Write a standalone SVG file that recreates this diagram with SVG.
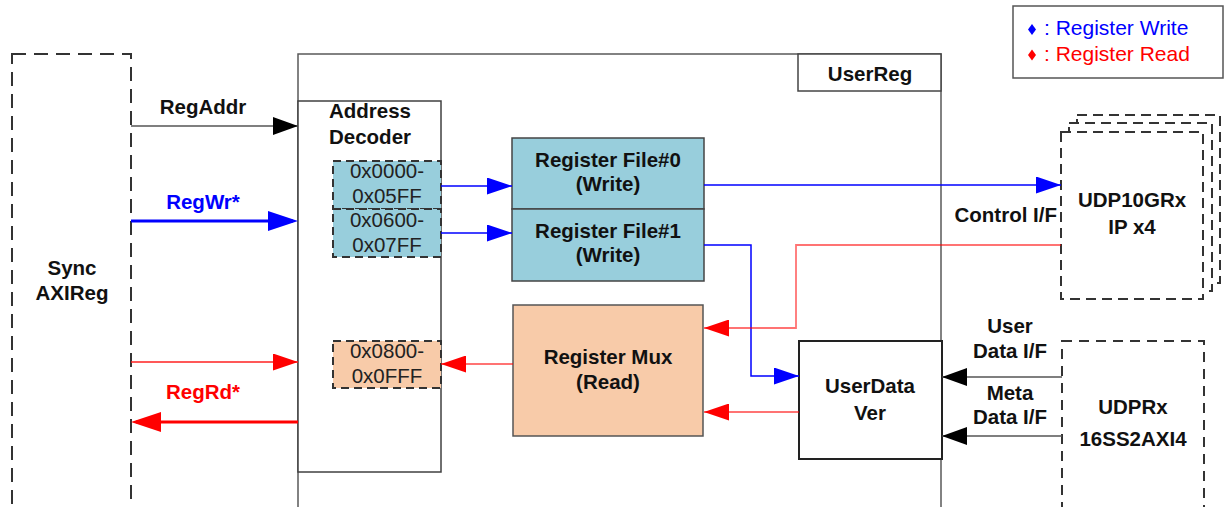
<svg xmlns="http://www.w3.org/2000/svg" width="1226" height="507" viewBox="0 0 1226 507">
<style>
text{font-family:"Liberation Sans",Arial,sans-serif;}
.b{font-weight:bold;font-size:20.5px;fill:#111;text-anchor:middle;}
.n{font-size:20.5px;fill:#222;text-anchor:middle;}
.lg{font-size:21px;}
.dash{fill:none;stroke:#333;stroke-width:2;stroke-dasharray:14 8;}
.stk{fill:#fff;stroke:#333;stroke-width:2;stroke-dasharray:10 6;}
.hexd{stroke:#333;stroke-width:2;stroke-dasharray:8 5;}
.blue{fill:#98CEDC;stroke:#444;stroke-width:1.5;}
.peach{fill:#F8CBA9;stroke:#555;stroke-width:1.5;}
.c{fill:none;}
.wb{stroke:#0000FF;stroke-width:1.5;}
.wbT{stroke:#0000FF;stroke-width:3;}
.rd{stroke:#FF0000;stroke-opacity:0.55;stroke-width:1.8;}
.rdT{stroke:#FF0000;stroke-width:3;}
.rdI{stroke:#FF2020;stroke-width:1.5;}
.k{stroke:#555;stroke-width:1.6;}
</style>
<defs>
<marker id="ak" markerUnits="userSpaceOnUse" markerWidth="25" markerHeight="18" refX="25" refY="9" orient="auto"><path d="M0,0 L25,9 L0,18 z" fill="#000"/></marker>
<marker id="ab" markerUnits="userSpaceOnUse" markerWidth="25" markerHeight="17" refX="25" refY="8.5" orient="auto"><path d="M0,0 L25,8.5 L0,17 z" fill="#0000FF"/></marker>
<marker id="ar" markerUnits="userSpaceOnUse" markerWidth="25" markerHeight="17" refX="25" refY="8.5" orient="auto"><path d="M0,0 L25,8.5 L0,17 z" fill="#FF0000"/></marker>
<marker id="abT" markerUnits="userSpaceOnUse" markerWidth="30" markerHeight="20" refX="25" refY="10" orient="auto"><path d="M0,0 L30,10 L0,20 z" fill="#0000FF"/></marker>
<marker id="arT" markerUnits="userSpaceOnUse" markerWidth="30" markerHeight="20" refX="25" refY="10" orient="auto"><path d="M0,0 L30,10 L0,20 z" fill="#FF0000"/></marker>
</defs>

<g id="userreg">
<rect x="298" y="54" width="643" height="470" fill="none" stroke="#595959" stroke-width="1.5"/>
<rect x="798" y="54" width="143" height="37" fill="#fff" stroke="#444" stroke-width="1.5"/>
<text class="b" x="870" y="81">UserReg</text>
</g>

<g id="syncaxireg">
<rect class="dash" x="12" y="54" width="119" height="480"/>
<text class="b" x="72" y="275">Sync</text>
<text class="b" x="72" y="300">AXIReg</text>
</g>

<g id="addrdecoder">
<rect x="298" y="101" width="143" height="371" fill="#fff" stroke="#404040" stroke-width="1.5"/>
<text class="b" x="370" y="118">Address</text>
<text class="b" x="370" y="144">Decoder</text>
</g>

<g id="hex0">
<rect class="hexd" x="333" y="161" width="108" height="48" fill="#98CEDC"/>
<text class="n" x="387" y="178">0x0000-</text>
<text class="n" x="387" y="203">0x05FF</text>
</g>
<g id="hex1">
<rect class="hexd" x="333" y="209" width="108" height="48" fill="#98CEDC"/>
<text class="n" x="387" y="227">0x0600-</text>
<text class="n" x="387" y="251.5">0x07FF</text>
</g>
<g id="hex2">
<rect class="hexd" x="333" y="341" width="108" height="47" fill="#F8CBA9"/>
<text class="n" x="387" y="358">0x0800-</text>
<text class="n" x="387" y="383">0x0FFF</text>
</g>

<g id="regfile0">
<rect class="blue" x="512" y="138" width="192" height="71"/>
<text class="b" x="608" y="166.5">Register File#0</text>
<text class="b" x="608" y="191">(Write)</text>
</g>
<g id="regfile1">
<rect class="blue" x="512" y="209" width="192" height="72"/>
<text class="b" x="608" y="238">Register File#1</text>
<text class="b" x="608" y="262">(Write)</text>
</g>

<g id="regmux">
<rect class="peach" x="513" y="305" width="190" height="131"/>
<text class="b" x="608" y="364">Register Mux</text>
<text class="b" x="608" y="389">(Read)</text>
</g>

<g id="userdataver">
<rect x="799" y="341" width="143" height="118" fill="#fff" stroke="#222" stroke-width="2"/>
<text class="b" x="870" y="393">UserData</text>
<text class="b" x="870" y="420">Ver</text>
</g>

<g id="udp10grx">
<rect class="stk" x="1077" y="115" width="143" height="168"/>
<rect class="stk" x="1069" y="123" width="143" height="168"/>
<rect class="stk" x="1061" y="132" width="142" height="167"/>
<text class="b" x="1132" y="207">UDP10GRx</text>
<text class="b" x="1132" y="234">IP x4</text>
</g>

<g id="udprx">
<rect class="dash" x="1062" y="341" width="142" height="190" style="stroke-dasharray:10 7"/>
<text class="b" x="1133" y="414">UDPRx</text>
<text class="b" x="1133" y="445.5">16SS2AXI4</text>
</g>

<g id="legend">
<rect x="1013" y="6" width="210" height="72" fill="#fff" stroke="#555" stroke-width="1.5"/>
<path d="M1032,24 L1036,29.5 L1032,35 L1028,29.5 z" fill="#0000FF"/>
<text class="lg" x="1044" y="35" fill="#0000FF">: Register Write</text>
<path d="M1032,49.5 L1036,55 L1032,60.5 L1028,55 z" fill="#FF0000"/>
<text class="lg" x="1044" y="61" fill="#FF0000">: Register Read</text>
</g>

<g id="connectors">
<path class="c k" d="M131,126 H298" marker-end="url(#ak)"/>
<path class="c wbT" d="M131,221 H293" marker-end="url(#abT)"/>
<path class="c rdI" d="M131,362 H298" marker-end="url(#ar)"/>
<path class="c rdT" d="M298,422 H136" marker-end="url(#arT)"/>
<path class="c wb" d="M441,186 H512" marker-end="url(#ab)"/>
<path class="c wb" d="M441,233 H512" marker-end="url(#ab)"/>
<path class="c rd" d="M513,364 H441" marker-end="url(#ar)"/>
<path class="c wb" d="M704,185 H1061" marker-end="url(#ab)"/>
<path class="c wb" d="M704,245 H751 V376 H799" marker-end="url(#ab)"/>
<path class="c rd" d="M1061,245 H796 V328 H704" marker-end="url(#ar)"/>
<path class="c rd" d="M799,412 H704" marker-end="url(#ar)"/>
<path class="c k" d="M1062,377 H942" marker-end="url(#ak)"/>
<path class="c k" d="M1062,436 H942" marker-end="url(#ak)"/>
<text class="b" x="203" y="114">RegAddr</text>
<text class="b" x="203" y="209" fill="#0000FF" style="fill:#0000FF">RegWr*</text>
<text class="b" x="203" y="399" style="fill:#FF0000">RegRd*</text>
<text class="b" x="1057" y="222" style="text-anchor:end">Control I/F</text>
<text class="b" x="1010" y="333">User</text>
<text class="b" x="1010" y="358">Data I/F</text>
<text class="b" x="1010" y="400">Meta</text>
<text class="b" x="1010" y="424">Data I/F</text>
</g>
</svg>
